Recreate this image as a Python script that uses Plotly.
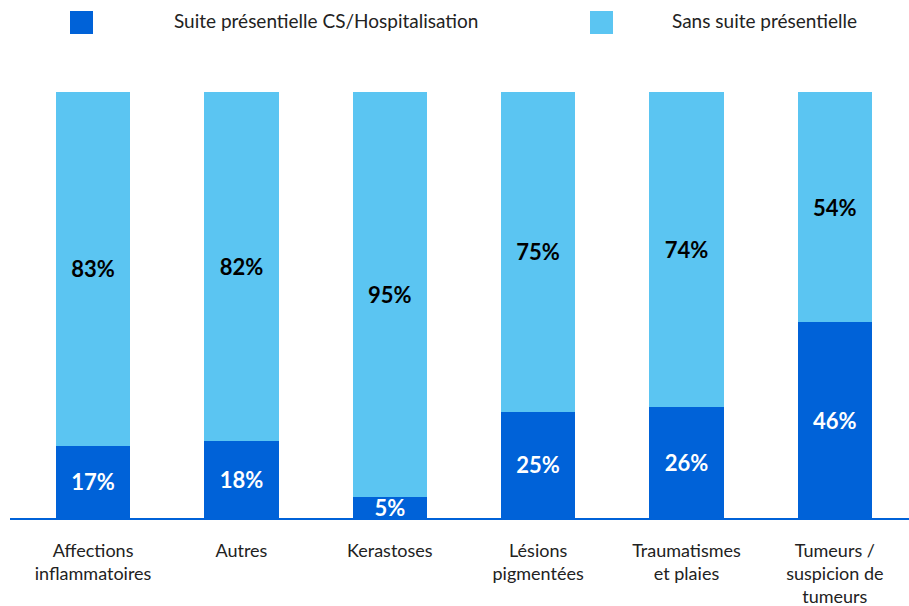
import plotly.graph_objects as go

DARK = "#0062D8"
LIGHT = "#5BC5F2"
FONT = "Lato"

categories = [
    "Affections<br>inflammatoires",
    "Autres",
    "Kerastoses",
    "Lésions<br>pigmentées",
    "Traumatismes<br>et plaies",
    "Tumeurs /<br>suspicion de<br>tumeurs",
]
suite_vals = [17, 18, 5, 25, 26, 46]
sans_vals = [83, 82, 95, 75, 74, 54]
legend_names = ["Suite présentielle CS/Hospitalisation", "Sans suite présentielle"]

fig = go.Figure()
fig.add_trace(go.Bar(
    x=categories, y=suite_vals, name=legend_names[0],
    marker=dict(color=DARK, line=dict(width=0)),
    text=[f"<b>{v}%</b>" for v in suite_vals],
    textposition="inside", insidetextanchor="middle",
    textfont=dict(color="white", size=22, family=FONT),
    width=0.5, showlegend=False,
))
fig.add_trace(go.Bar(
    x=categories, y=sans_vals, name=legend_names[1],
    marker=dict(color=LIGHT, line=dict(width=0)),
    text=[f"<b>{v}%</b>" for v in sans_vals],
    textposition="inside", insidetextanchor="middle",
    textfont=dict(color="black", size=22, family=FONT),
    width=0.5, showlegend=False,
))

# hand-drawn legend (large squares, wide gap to text)
for i, (name, color) in enumerate(zip(legend_names, [DARK, LIGHT])):
    x0 = [70, 590][i]
    tx = [172, 670][i]
    fig.add_shape(type="rect", xref="paper", yref="paper",
                  x0=(x0 - 10) / 899, x1=(x0 + 23 - 10) / 899,
                  y0=(518 - 34) / 426, y1=(518 - 11) / 426,
                  fillcolor=color, line=dict(width=0))
    fig.add_annotation(text=name, xref="paper", yref="paper",
                       x=(tx - 10) / 899, y=(518 - 21) / 426,
                       xanchor="left", yanchor="middle", showarrow=False,
                       font=dict(size=19, color="#222222", family=FONT))

fig.update_layout(
    barmode="stack",
    width=909, height=606,
    margin=dict(l=10, r=0, t=92, b=88),
    plot_bgcolor="white", paper_bgcolor="white",
    font=dict(family=FONT, size=18, color="#222222"),
    uniformtext=dict(minsize=22, mode="show"),
    xaxis=dict(range=[-0.56, 5.5], showline=True, linecolor=DARK, linewidth=2,
               ticks="", ticklabelstandoff=15, automargin=False,
               tickfont=dict(size=18, color="#222222")),
    yaxis=dict(range=[0, 100], visible=False),
)

fig.write_html("out.html", config={"displayModeBar": False},
               post_script="document.body.style.margin='0';")
